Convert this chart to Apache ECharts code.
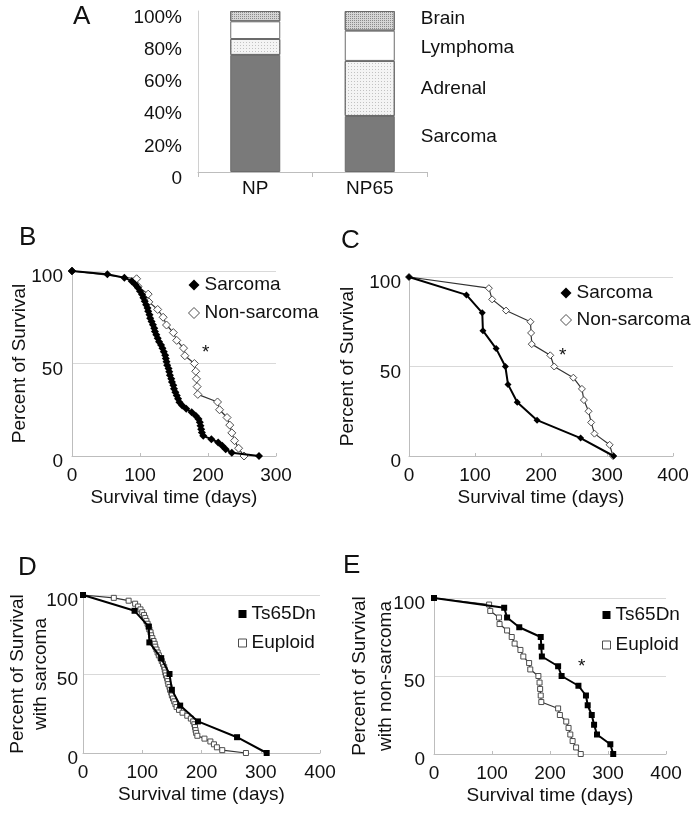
<!DOCTYPE html>
<html>
<head>
<meta charset="utf-8">
<script src="https://cdn.jsdelivr.net/npm/echarts@6/dist/echarts.min.js"></script>
<style>
  html, body { margin: 0; padding: 0; background: #fff; }
  #chart { width: 697px; height: 813px; }
</style>
</head>
<body>
<div id="chart"></div>
<script>
// panel A - tumour spectrum, % of mice
const groups = ['NP', 'NP65']
const sarcomaPct = [72.7, 34.8]
const adrenalPct = [9.9, 34.2]
const lymphomaPct = [11.0, 18.8]
const brainPct = [6.4, 12.2]
const pctTicks = ['0', '20%', '40%', '60%', '80%', '100%']

// survival curves: [days, percent surviving]
const euploidSarcoma = [
  [0,100],[52,98.2],[77,96.4],[88,94.5],[93,92.7],[97,90.9],[100,89.1],[103,87.3],[105,85.5],
  [107,83.6],[109,81.8],[111,80],[112,78.2],[114,76.4],[115,74.5],[117,72.7],[119,70.9],
  [121,69.1],[122,67.3],[124,65.5],[126,63.6],[128,61.8],[131,60],[133,58.2],[135,56.4],
  [137,54.5],[138,52.7],[139,50.9],[140,49.1],[142,47.3],[143,45.5],[144,43.6],[146,41.8],
  [147,40],[149,38.2],[150,36.4],[152,34.5],[154,32.7],[156,30.9],[158,29.1],[162,27.3],
  [168,25.5],[176,23.6],[182,21.8],[186,20],[188,18.2],[189,16.4],[190,14.5],[191,12.7],
  [193,10.9],[205,9.1],[215,7.3],[221,5.5],[226,3.6],[235,1.8],[275,0]
]
const euploidNonSarcoma = [
  [0,100],[95,95.8],[97,91.7],[112,87.5],[113,83.3],[126,79.2],[134,75],[139,70.8],[149,66.7],
  [154,62.5],[164,58.3],[166,54.2],[180,50],[182,45.8],[183,41.7],[184,37.5],[185,33.3],
  [214,29.2],[217,25],[228,20.8],[232,16.7],[235,12.5],[239,8.3],[245,4.2],[253,0]
]
const ts65Sarcoma = [
  [0,100],[87,90],[111,80],[112,70],[132,60],[146,50],[150,40],[164,30],[194,20],[260,10],[310,0]
]
const ts65NonSarcoma = [
  [0,100],[121,93.75],[126,87.5],[147,81.25],[184,75],[185,68.75],[186,62.5],[214,56.25],
  [220,50],[249,43.75],[262,37.5],[265,31.25],[272,25],[276,18.75],[281,12.5],[304,6.25],[309,0]
]

const font = 'Liberation Sans, Arial, sans-serif'
const ink = '#111'
const axisGray = '#bdbdbd'

function xSurv(gi, max) {
  return {
    type: 'value', gridIndex: gi, min: 0, max: max, interval: 100,
    axisLine: { show: true, lineStyle: { color: axisGray } },
    axisTick: { show: true, inside: true, length: 3, lineStyle: { color: axisGray } },
    splitLine: { show: false },
    axisLabel: { margin: 10, fontSize: 19, color: ink, fontFamily: font },
    name: 'Survival time (days)', nameLocation: 'middle', nameGap: 32, nameMoveOverlap: false,
    nameTextStyle: { fontSize: 19, color: ink, fontFamily: font }
  }
}
function ySurv(gi, name, gap, margin, lh) {
  return {
    type: 'value', gridIndex: gi, min: 0, max: 100, interval: 50,
    axisLine: { show: true, lineStyle: { color: axisGray } },
    axisTick: { show: false },
    splitLine: { show: true, lineStyle: { color: '#d9d9d9' } },
    // labels sit a little below their gridline, as in the figure
    axisLabel: { margin: margin, fontSize: 19, color: ink, fontFamily: font,
      verticalAlign: 'top', lineHeight: 12 },
    name: name, nameLocation: 'middle', nameGap: gap, nameMoveOverlap: false,
    nameTextStyle: { fontSize: 19, color: ink, fontFamily: font, lineHeight: lh }
  }
}
function filled(name, gi, data, symbol, size) {
  return {
    name: name, type: 'line', xAxisIndex: gi, yAxisIndex: gi, data: data,
    symbol: symbol, symbolSize: size, clip: false,
    lineStyle: { color: '#000', width: 2 },
    itemStyle: { color: '#000' }, z: 3
  }
}
function hollow(name, gi, data, symbol, size) {
  return {
    name: name, type: 'line', xAxisIndex: gi, yAxisIndex: gi, data: data,
    symbol: symbol, symbolSize: size, clip: false,
    lineStyle: { color: '#333', width: 1.2 },
    itemStyle: { color: '#fff', borderColor: '#4d4d4d', borderWidth: 1 }, z: 2
  }
}
function barSeries(name, vals, color, decal, offset) {
  const style = { color: color, borderColor: '#6b6b6b', borderWidth: 1 }
  if (decal) style.decal = decal
  return {
    name: name, type: 'bar', stack: 'tumour', xAxisIndex: 0, yAxisIndex: 0, barWidth: 50,
    itemStyle: style,
    label: { position: 'right', distance: 26, formatter: '{a}', fontSize: 19, color: ink,
      fontFamily: font, offset: [0, offset] },
    data: vals.map((v, i) => i === 1 ? { value: v, label: { show: true } } : v)
  }
}
function legendAt(left, top, gap, items) {
  return {
    left: left, top: top, orient: 'vertical', itemGap: gap, selectedMode: false,
    itemWidth: items[0].w, itemHeight: items[0].w,
    textStyle: { fontSize: 19, color: ink, fontFamily: font, lineHeight: 20 },
    data: items.map(it => ({ name: it.name, icon: it.icon, itemStyle: it.style }))
  }
}
function letter(t, x, y) {
  return { type: 'text', left: x, top: y, style: { text: t, font: '26px ' + font, fill: ink } }
}
function star(x, y) {
  return { type: 'text', left: x, top: y, style: { text: '*', font: '19px ' + font, fill: ink } }
}

const solidBlack = { color: '#000', borderWidth: 0 }
const openGray = { color: '#fff', borderColor: '#4d4d4d', borderWidth: 1 }
const lightDots = { symbol: 'rect', symbolSize: 1, dashArrayX: [1, 2], dashArrayY: [1, 2], color: '#c2c2c2' }
const denseDots = { symbol: 'rect', symbolSize: 1, dashArrayX: [1, 1], dashArrayY: [1, 1], color: '#8c8c8c' }

const chart = echarts.init(document.getElementById('chart'))
chart.setOption({
  animation: false,
  backgroundColor: '#fff',
  textStyle: { fontFamily: font },
  grid: [
    { left: 198, top: 11, width: 229, height: 161 },
    { left: 72, top: 271, width: 204, height: 185 },
    { left: 409, top: 277, width: 264, height: 179 },
    { left: 83, top: 595, width: 237, height: 158 },
    { left: 434, top: 598, width: 232, height: 156 }
  ],
  xAxis: [
    {
      type: 'category', gridIndex: 0, data: groups,
      axisLine: { lineStyle: { color: axisGray } },
      axisTick: { show: true, length: 5, lineStyle: { color: axisGray } },
      axisLabel: { margin: 7, fontSize: 19, color: ink, fontFamily: font }
    },
    xSurv(1, 300), xSurv(2, 400), xSurv(3, 400), xSurv(4, 400)
  ],
  yAxis: [
    {
      type: 'value', gridIndex: 0, min: 0, max: 100, interval: 20,
      axisLine: { show: true, lineStyle: { color: '#d0d0d0' } },
      axisTick: { show: false }, splitLine: { show: false },
      axisLabel: { margin: 16, fontSize: 19, color: ink, fontFamily: font,
        verticalAlign: 'top', lineHeight: 13, formatter: (v, i) => pctTicks[i] }
    },
    ySurv(1, 'Percent of Survival', 41, 9, 23),
    ySurv(2, 'Percent of Survival', 50, 8, 23),
    ySurv(3, 'Percent of Survival\nwith sarcoma', 31, 5, 23),
    ySurv(4, 'Percent of Survival\nwith non-sarcoma', 35, 9, 26)
  ],
  legend: [
    legendAt(183, 270, 8, [
      { name: 'Sarcoma', icon: 'diamond', style: solidBlack, w: 11 },
      { name: 'Non-sarcoma', icon: 'diamond', style: openGray }
    ]),
    legendAt(555, 278, 7, [
      { name: 'Sarcoma', icon: 'diamond', style: solidBlack, w: 11 },
      { name: 'Non-sarcoma', icon: 'diamond', style: openGray }
    ]),
    legendAt(233, 599, 9, [
      { name: 'Ts65Dn', icon: 'rect', style: solidBlack, w: 8 },
      { name: 'Euploid', icon: 'rect', style: openGray }
    ]),
    legendAt(597, 600, 10, [
      { name: 'Ts65Dn', icon: 'rect', style: solidBlack, w: 8 },
      { name: 'Euploid', icon: 'rect', style: openGray }
    ])
  ],
  graphic: [
    letter('A', 73, 4), letter('B', 19, 225), letter('C', 341, 228),
    letter('D', 18, 555), letter('E', 343, 553),
    star(202, 343), star(559, 346), star(578, 657)
  ],
  series: [
    barSeries('Sarcoma', sarcomaPct, '#7a7a7a', null, -7),
    barSeries('Adrenal', adrenalPct, '#f4f4f4', lightDots, 0),
    barSeries('Lymphoma', lymphomaPct, '#ffffff', null, 2),
    barSeries('Brain', brainPct, '#d6d6d6', denseDots, -2),
    hollow('Non-sarcoma', 1, euploidNonSarcoma, 'diamond', 8),
    filled('Sarcoma', 1, euploidSarcoma, 'diamond', 8),
    hollow('Non-sarcoma', 2, ts65NonSarcoma, 'diamond', 7),
    filled('Sarcoma', 2, ts65Sarcoma, 'diamond', 7),
    hollow('Euploid', 3, euploidSarcoma, 'rect', 5),
    filled('Ts65Dn', 3, ts65Sarcoma, 'rect', 6),
    hollow('Euploid', 4, euploidNonSarcoma, 'rect', 5),
    filled('Ts65Dn', 4, ts65NonSarcoma, 'rect', 6)
  ]
})
</script>
</body>
</html>
